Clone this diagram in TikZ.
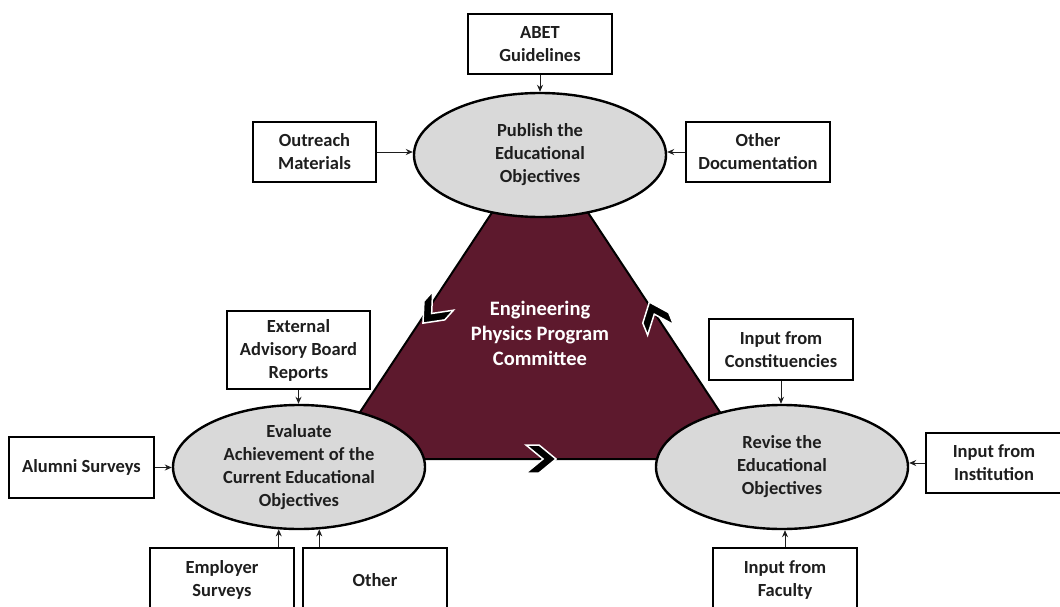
\documentclass[tikz,border=0pt]{standalone}
\usepackage{fontspec}
\setmainfont{Carlito}
\usetikzlibrary{shapes.geometric,arrows.meta,calc}
\definecolor{maroon}{RGB}{93,25,45}
\definecolor{ellgray}{RGB}{217,217,217}
\definecolor{txt}{RGB}{30,30,30}
\begin{document}
\begin{tikzpicture}[x=1pt,y=-1pt,
  lbl/.style={font=\bfseries\fontsize{18.5}{23}\selectfont, text=txt, align=center},
  box/.style={lbl, draw=black, line width=1.5pt, fill=white, inner sep=0pt},
  ell/.style={lbl, ellipse, draw=black, line width=2.4pt, fill=ellgray, minimum width=252pt, minimum height=124pt, inner sep=0pt},
  arr/.style={-{Stealth[length=7pt,width=6pt]}, line width=0.9pt, draw=txt},
  chev/.pic={\fill[black, draw=white, line width=1.5pt, line join=miter]
     (-15,-14) -- (-2,-14) -- (15,0) -- (-2,14) -- (-15,14) -- (2,0) -- cycle;}
]
\clip (0,0) rectangle (1060,607);
\fill[white] (0,0) rectangle (1060,607);

% triangle
\draw[fill=maroon, line width=2pt, line join=round] (540,140) -- (329,459) -- (751,459) -- cycle;
\node[font=\bfseries\fontsize{20.5}{25}\selectfont, text=white, align=center] (epc) at (540,333)
  {Engineering\\Physics Program\\Committee};

% chevrons
\pic[rotate=228] at (433,312) {chev};
\pic[rotate=112] at (655,316) {chev};
\pic at (541,459) {chev};

% ellipses
\node[ell] (pub) at (540,155) {Publish the\\Educational\\Objectives};
\node[ell] (eval) at (299,467) {Evaluate\\Achievement of the\\Current Educational\\Objectives};
\node[ell] (rev) at (782,467) {Revise the\\Educational\\Objectives};

% boxes
\node[box, minimum width=144pt, minimum height=60pt] (abet) at (540,44) {ABET\\Guidelines};
\node[box, minimum width=123pt, minimum height=60pt] (outr) at (314.5,152) {Outreach\\Materials};
\node[box, minimum width=144pt, minimum height=60pt] (odoc) at (758,152) {Other\\Documentation};
\node[box, minimum width=143pt, minimum height=78pt] (ext) at (298.5,350) {External\\Advisory Board\\Reports};
\node[box, minimum width=145pt, minimum height=61pt] (alum) at (81.5,467.5) {Alumni Surveys};
\node[box, minimum width=144pt, minimum height=64pt] (emp) at (222,580) {Employer\\Surveys};
\node[box, minimum width=144pt, minimum height=64pt] (oth) at (375,580) {Other};
\node[box, minimum width=144pt, minimum height=61pt] (cons) at (781,349.5) {Input from\\Constituencies};
\node[box, minimum width=136pt, minimum height=60pt] (inst) at (994,463) {Input from\\Institution};
\node[box, minimum width=144pt, minimum height=64pt] (fac) at (785,580) {Input from\\Faculty};

% arrows
\draw[arr] (abet.south) -- (pub.north);
\draw[arr] (outr.east) -- (outr.east -| pub.west);
\draw[arr] (odoc.west) -- (odoc.west -| pub.east);
\draw[arr] (ext.south) -- (ext.south |- eval.north);
\draw[arr] (alum.east) -- (alum.east -| eval.west);
\draw[arr] (emp.north -| eval.252) -- (eval.252);
\draw[arr] (oth.north -| eval.288) -- (eval.288);
\draw[arr] (cons.south) -- (cons.south |- rev.north);
\draw[arr] (inst.west) -- (inst.west -| rev.east);
\draw[arr] (fac.north) -- (fac.north |- rev.south);
\end{tikzpicture}
\end{document}
